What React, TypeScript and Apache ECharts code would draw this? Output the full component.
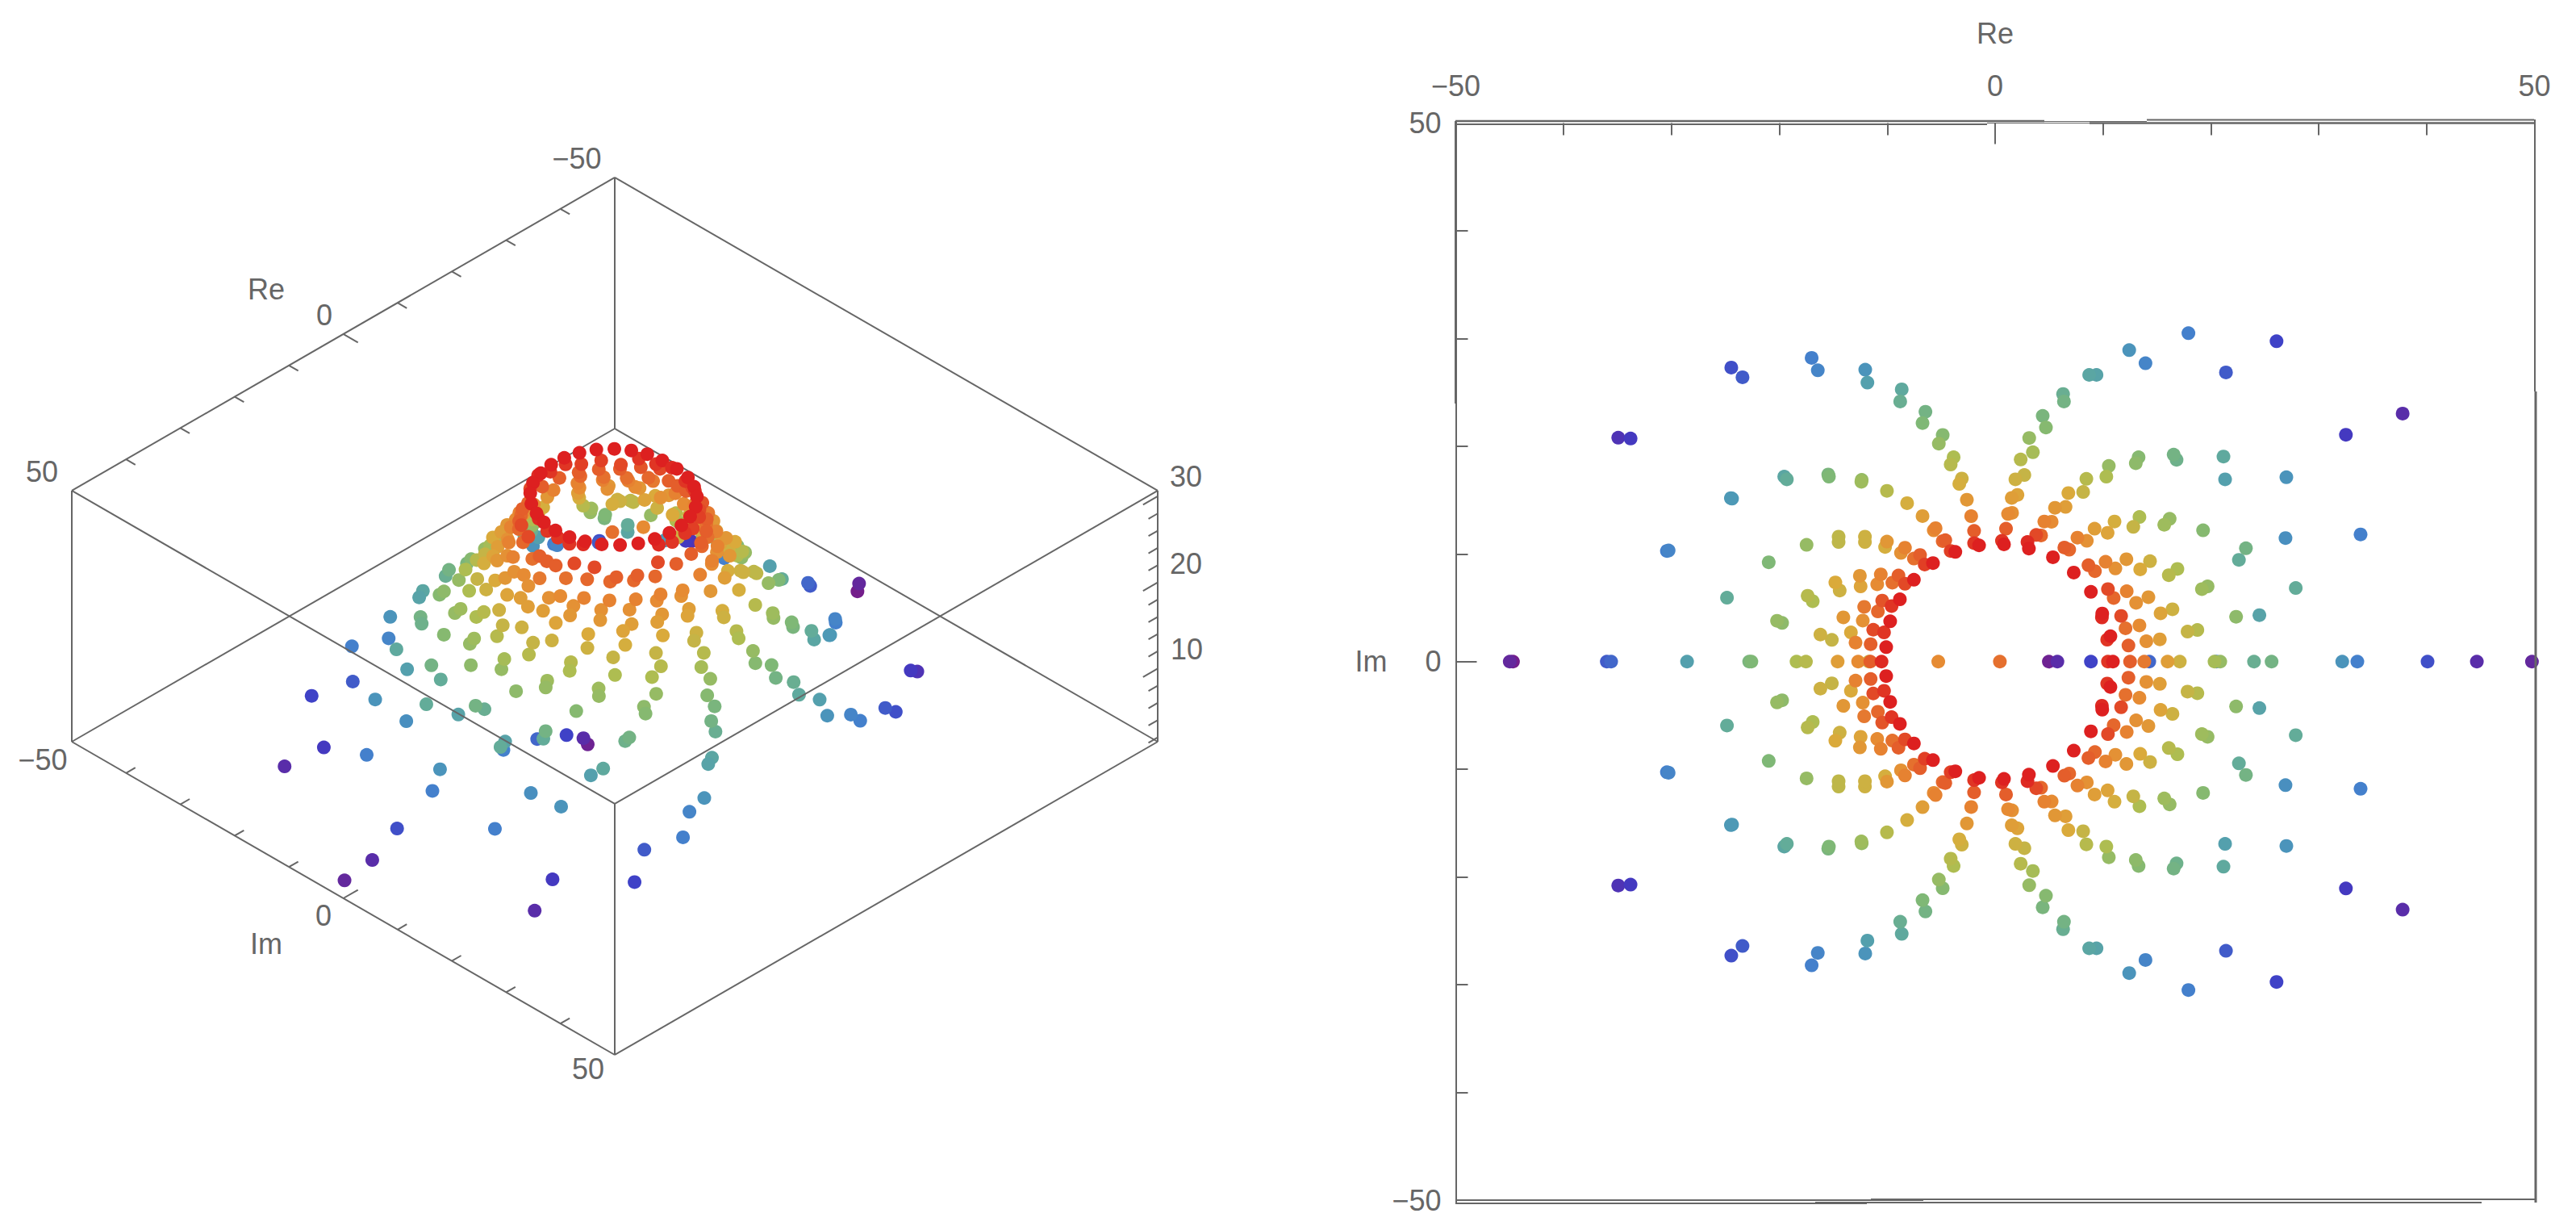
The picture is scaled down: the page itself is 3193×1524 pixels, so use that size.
import React, { useEffect, useRef } from "react";
import * as echarts from "echarts";

type P = [number, number, number];

const axisPoints: P[] = [
  [-45,0,3.5],[-44.7,0,2.7],[-36,0,6.5],[-35.6,0,7],[-28.56,0,11.5],[-22.8,0,15.5],[-22.6,0,16],[-18.41,0,19],[-17.54,0,19.5],[-14.6,0,23],[-12.7,0,24.5],[-11.7,0,21],[-11.57,0,27],[-10.53,0,29.5],[-5.27,0,24.5],[0.44,0,26],[4.98,0,3],[5.77,0,4],[8.88,0,5.5],[10.46,0,29],[10.92,0,30],[12.51,0,27],[13.83,0,25.5],[14.29,0,7],[15.99,0,23],[17.12,0,21],[20.34,0,18.5],[20.87,0,17.5],[20.5,0,8],[24,0,14],[25.63,0,15],[32.18,0,10],[33.58,0,8],[40.09,0,6],[44.66,0,4],[49.77,0,3.5],
];
const arcUpper: P[] = [
  [-34.94,20.79,4.5],[-33.8,20.71,5],[-24.46,27.3,6],[-23.42,26.4,6.5],[-17.01,28.2,8],[-16.44,27.05,8.5],[-12.04,27.1,10],[-11.84,25.9,11.5],[-8.66,25.28,13],[-8.8,24.15,14],[-6.46,23.2,15],[-6.73,22.15,16],[-4.86,21.04,16.5],[-5.22,20.24,17.5],[-3.85,18.97,19],[-4.12,18.3,19.5],[-3.09,17,21],[-3.32,16.5,21.5],[-2.62,15.03,23.5],[-2.22,13.5,25],[-1.95,12.14,27],[-1.95,11,29],[-1.49,10.79,30],
  [0.82,10.89,30],[0.63,11.22,29],[1.01,12.34,27],[1.2,13.71,24.5],[1.57,13.81,24],[1.54,15.2,23],[2.07,15.48,22.5],[1.88,16.92,21],[2.71,17.32,20.5],[2.37,18.77,19.5],[3.16,20.76,17.5],[3.5,19.44,18.5],[4.41,22.81,15.5],[4.71,21.74,16.5],[6.3,24.85,14],[6.38,24.15,15],[8.72,26.62,12.5],[9.4,26.62,12],[12.43,28.92,10],[13.94,27.7,8.5],[17.92,30.49,8],[21.4,26.85,6.5],[26.09,29.74,5.5],[32.52,21.06,5],[37.78,23.03,4],
];
const arcLower: P[] = [
  [-34.94,-20.79,4.5],[-33.8,-20.71,5],[-24.46,-27.3,6],[-23.42,-26.4,6.5],[-17.01,-28.2,8],[-16.44,-27.05,8.5],[-12.04,-27.1,10],[-11.84,-25.9,11.5],[-8.66,-25.28,13],[-8.8,-24.15,14],[-6.46,-23.2,15],[-6.73,-22.15,16],[-4.86,-21.04,16.5],[-5.22,-20.24,17.5],[-3.85,-18.97,19],[-4.12,-18.3,19.5],[-3.09,-17,21],[-3.32,-16.5,21.5],[-2.62,-15.03,23.5],[-2.22,-13.5,25],[-1.95,-12.14,27],[-1.95,-11,29],[-1.49,-10.79,30],
  [0.82,-10.89,30],[0.63,-11.22,29],[1.01,-12.34,27],[1.2,-13.71,24.5],[1.57,-13.81,24],[1.54,-15.2,23],[2.07,-15.48,22.5],[1.88,-16.92,21],[2.71,-17.32,20.5],[2.37,-18.77,19.5],[3.16,-20.76,17.5],[3.5,-19.44,18.5],[4.41,-22.81,15.5],[4.71,-21.74,16.5],[6.3,-24.85,14],[6.38,-24.15,15],[8.72,-26.62,12.5],[9.4,-26.62,12],[12.43,-28.92,10],[13.94,-27.7,8.5],[17.92,-30.49,8],[21.4,-26.85,6.5],[26.09,-29.74,5.5],[32.52,-21.06,5],[37.78,-23.03,4],
];
const leftRayAUpper: P[] = [
  [-30.27,10.32,8.5],[-30.43,10.27,8],[-24.39,15.13,10.5],[-24.5,15.18,10.5],[-19.55,17.17,12.5],[-19.31,16.92,13.5],[-15.47,17.37,15.5],[-15.41,17.17,16],[-12.37,16.87,17.5],[-12.4,16.7,18],[-10.03,15.85,19.5],[-8.16,14.71,21.5],[-6.73,13.51,23],[-5.52,12.39,25],[-5.69,12.19,24.5],[-4.62,11.27,27],[-4.86,11.19,26.5],[-4.12,10.27,28.5],[-3.69,10.19,30],
];
const leftRayALower: P[] = [
  [-30.27,-10.32,8.5],[-30.43,-10.27,8],[-24.39,-15.13,10.5],[-24.5,-15.18,10.5],[-19.55,-17.17,12.5],[-19.31,-16.92,13.5],[-15.47,-17.37,15.5],[-15.41,-17.17,16],[-12.37,-16.87,17.5],[-12.4,-16.7,18],[-10.03,-15.85,19.5],[-8.16,-14.71,21.5],[-6.73,-13.51,23],[-5.52,-12.39,25],[-5.69,-12.19,24.5],[-4.62,-11.27,27],[-4.86,-11.19,26.5],[-4.12,-10.27,28.5],[-3.69,-10.19,30],
];
const leftRayBUpper: P[] = [
  [-20.99,9.22,16],[-17.48,10.84,17.5],[-14.51,11.6,20],[-14.51,11.1,20],[-12.07,11.6,21],[-12.07,11.1,21],[-10.03,11.14,23.5],[-10.2,10.64,21.5],[-8.36,10.57,25],[-8.73,10.09,24],[-6.96,9.9,27],[-7.53,9.57,26],[-6.53,9.02,28.5],[-5.76,9.15,30],
];
const leftRayBLower: P[] = [
  [-20.99,-9.22,16],[-17.48,-10.84,17.5],[-14.51,-11.6,20],[-14.51,-11.1,20],[-12.07,-11.6,21],[-12.07,-11.1,21],[-10.03,-11.14,23.5],[-10.2,-10.64,21.5],[-8.36,-10.57,25],[-8.73,-10.09,24],[-6.96,-9.9,27],[-7.53,-9.57,26],[-6.53,-9.02,28.5],[-5.76,-9.15,30],
];
const leftRayCUpper: P[] = [
  [-24.86,5.93,13.5],[-20.22,3.79,17.5],[-19.75,3.59,17],[-17.38,6.11,19.5],[-16.91,5.61,19],[-14.81,7.35,22],[-14.41,6.6,21],[-12.54,7.97,23.5],[-12.47,6.98,22.5],[-10.6,8.1,25],[-10.93,7.18,24.5],[-8.96,8,27],[-9.53,7.33,26],[-8.36,7.23,28],[-7.53,7.6,30],
];
const leftRayCLower: P[] = [
  [-24.86,-5.93,13.5],[-20.22,-3.79,17.5],[-19.75,-3.59,17],[-17.38,-6.11,19.5],[-16.91,-5.61,19],[-14.81,-7.35,22],[-14.41,-6.6,21],[-12.54,-7.97,23.5],[-12.47,-6.98,22.5],[-10.6,-8.1,25],[-10.93,-7.18,24.5],[-8.96,-8,27],[-9.53,-7.33,26],[-8.36,-7.23,28],[-7.53,-7.6,30],
];
const leftRayDUpper: P[] = [
  [-10.47,5.66,27.5],[-8.83,5.78,30],[-9.6,5.16,29],[-12.14,5.08,25.5],[-10.87,4.66,26.5],[-14.07,4.11,23.5],[-12.27,3.81,24],[-9.73,3.74,30],[-11.3,2.96,28],[-10.3,2.71,29],[-13.37,2.71,22],[-12.94,1.77,25],[-11.54,1.62,27],[-10.1,1.34,30],[-16.2,2.51,21],[-15.14,2.02,20.5],
];
const leftRayDLower: P[] = [
  [-10.47,-5.66,27.5],[-8.83,-5.78,30],[-9.6,-5.16,29],[-12.14,-5.08,25.5],[-10.87,-4.66,26.5],[-14.07,-4.11,23.5],[-12.27,-3.81,24],[-9.73,-3.74,30],[-11.3,-2.96,28],[-10.3,-2.71,29],[-13.37,-2.71,22],[-12.94,-1.77,25],[-11.54,-1.62,27],[-10.1,-1.34,30],[-16.2,-2.51,21],[-15.14,-2.02,20.5],
];
const rightRayAUpper: P[] = [
  [3,11.1,29.5],[3.13,10.5,30],[3.81,11.76,28],[4.26,11.71,26.5],[4.56,13.01,25],[5.24,12.99,24.5],[5.55,14.28,23.5],[6.53,14.36,23],[6.79,15.65,22],[8.16,15.75,20.5],[8.46,16.97,19.5],[10.31,17.17,19],[10.54,18.17,17.5],[13.04,18.42,17],[13.3,18.97,16.5],[16.55,19.22,15],[16.82,18.74,14.5],[21.17,19.04,13],[21.32,16.92,11.5],[27,17.12,10],
];
const rightRayALower: P[] = [
  [3,-11.1,29.5],[3.13,-10.5,30],[3.81,-11.76,28],[4.26,-11.71,26.5],[4.56,-13.01,25],[5.24,-12.99,24.5],[5.55,-14.28,23.5],[6.53,-14.36,23],[6.79,-15.65,22],[8.16,-15.75,20.5],[8.46,-16.97,19.5],[10.31,-17.17,19],[10.54,-18.17,17.5],[13.04,-18.42,17],[13.3,-18.97,16.5],[16.55,-19.22,15],[16.82,-18.74,14.5],[21.17,-19.04,13],[21.32,-16.92,11.5],[27,-17.12,10],
];
const rightRayBUpper: P[] = [
  [5.36,9.69,30],[6.42,10.59,27],[6.87,10.39,26.5],[7.63,11.51,25],[8.5,11.22,24],[9.22,12.34,23],[10.43,11.96,22.5],[11.07,13.01,21.5],[12.81,12.51,20.5],[13.38,13.43,19],[15.68,12.71,18],[16.18,13.26,17.5],[19.28,12.19,16.5],[23.25,10.52,15],[22.6,9.45,13.5],[26.92,11.47,9.5],[33.88,11.81,8],
];
const rightRayBLower: P[] = [
  [5.36,-9.69,30],[6.42,-10.59,27],[6.87,-10.39,26.5],[7.63,-11.51,25],[8.5,-11.22,24],[9.22,-12.34,23],[10.43,-11.96,22.5],[11.07,-13.01,21.5],[12.81,-12.51,20.5],[13.38,-13.43,19],[15.68,-12.71,18],[16.18,-13.26,17.5],[19.28,-12.19,16.5],[23.25,-10.52,15],[22.6,-9.45,13.5],[26.92,-11.47,9.5],[33.88,-11.81,8],
];
const rightRayCUpper: P[] = [
  [7.29,8.27,30],[8.65,8.95,27],[9.25,8.4,26.5],[10.24,9.27,25],[11.15,8.65,24],[12.17,9.5,23.5],[13.45,8.57,22],[14.36,9.32,21],[16.1,8.02,19.5],[16.9,8.6,19],[19.17,6.73,18],[19.7,6.98,17.5],[27.87,6.83,13.5],
];
const rightRayCLower: P[] = [
  [7.29,-8.27,30],[8.65,-8.95,27],[9.25,-8.4,26.5],[10.24,-9.27,25],[11.15,-8.65,24],[12.17,-9.5,23.5],[13.45,-8.57,22],[14.36,-9.32,21],[16.1,-8.02,19.5],[16.9,-8.6,19],[19.17,-6.73,18],[19.7,-6.98,17.5],[27.87,-6.83,13.5],
];
const rightRayDUpper: P[] = [
  [8.88,6.48,30],[10.46,6.73,28],[10.99,5.91,26.5],[12.2,6.53,25],[13.07,5.46,24],[14.21,5.98,23.5],[15.34,4.48,22.5],[16.44,4.86,21],[17.84,2.79,20.5],[18.75,2.94,19.5],[22.34,4.16,17],[24.5,4.31,12],[9.93,4.46,30],[9.9,4.1,29.5],[11.68,4.24,28],[12.09,3.09,26],[13.38,3.36,24.5],[10.69,2.36,30],[10.39,2.04,29],[12.36,1.49,27],[14.02,1.89,24],[15.27,2.07,23],
];
const rightRayDLower: P[] = [
  [8.88,-6.48,30],[10.46,-6.73,28],[10.99,-5.91,26.5],[12.2,-6.53,25],[13.07,-5.46,24],[14.21,-5.98,23.5],[15.34,-4.48,22.5],[16.44,-4.86,21],[17.84,-2.79,20.5],[18.75,-2.94,19.5],[22.34,-4.16,17],[24.5,-4.31,12],[9.93,-4.46,30],[9.9,-4.1,29.5],[11.68,-4.24,28],[12.09,-3.09,26],[13.38,-3.36,24.5],[10.69,-2.36,30],[10.39,-2.04,29],[12.36,-1.49,27],[14.02,-1.89,24],[15.27,-2.07,23],
];

const boxTicks = [-40, -30, -20, -10, 0, 10, 20, 30, 40];
const boxMajorTicks = [0];
const panelLabels = [-50, 0, 50];
const heightTicks = [2, 4, 6, 8, 10, 12, 14, 16, 18, 20, 22, 24, 26, 28, 30];
const heightMajorTicks = [10, 20, 30];
const rainbow = ["#781C86", "#3F3CC6", "#4480CC", "#4E9BB4", "#63AC99", "#82B973", "#AEBD51", "#D9AD3C", "#E68B33", "#E4592A", "#DD2020"];

const INK = "#666666";
const FONT = '"Liberation Sans", Arial, sans-serif';
const FONT_SIZE = 36;
const DOT = 17;
const Z_MIN = 1.5;
const Z_MAX = 30.65;

// Isometric view of the left box, in the pixel-valued axes of the left grid.
const project = (re: number, im: number, z: number): [number, number] => [
  762 + 6.73 * (im - re),
  919 + 3.88 * (re + im) - 10.67 * (z - Z_MIN),
];

const allPoints: P[] = [
  ...axisPoints, ...arcUpper, ...arcLower,
  ...leftRayAUpper, ...leftRayALower, ...leftRayBUpper, ...leftRayBLower,
  ...leftRayCUpper, ...leftRayCLower, ...leftRayDUpper, ...leftRayDLower,
  ...rightRayAUpper, ...rightRayALower, ...rightRayBUpper, ...rightRayBLower,
  ...rightRayCUpper, ...rightRayCLower, ...rightRayDUpper, ...rightRayDLower,
];

const byDepth = [...allPoints].sort((a, b) => 7.33 * a[2] + 5.5 * (a[0] + a[1]) - (7.33 * b[2] + 5.5 * (b[0] + b[1])));
const byHeight = [...allPoints].sort((a, b) => a[2] - b[2]);

const seg = (a: [number, number, number], b: [number, number, number]) => ({
  coords: [project(a[0], a[1], a[2]), project(b[0], b[1], b[2])],
});

const backEdges = [
  seg([-50, -50, Z_MIN], [50, -50, Z_MIN]), seg([-50, -50, Z_MIN], [-50, 50, Z_MIN]),
  seg([50, 50, Z_MIN], [50, -50, Z_MIN]), seg([50, 50, Z_MIN], [-50, 50, Z_MIN]),
  seg([-50, -50, Z_MIN], [-50, -50, Z_MAX]), seg([50, -50, Z_MIN], [50, -50, Z_MAX]),
  seg([-50, 50, Z_MIN], [-50, 50, Z_MAX]), seg([50, 50, Z_MIN], [50, 50, Z_MAX]),
  seg([-50, -50, Z_MAX], [50, -50, Z_MAX]), seg([-50, -50, Z_MAX], [-50, 50, Z_MAX]),
];
const frontEdges = [seg([50, 50, Z_MAX], [50, -50, Z_MAX]), seg([50, 50, Z_MAX], [-50, 50, Z_MAX])];

const tickLen = (major: boolean) => (major ? 2.7 : 1.7);
const tickSegs = [
  ...boxTicks.map((v) => seg([v, -50, Z_MAX], [v, -50 + tickLen(boxMajorTicks.includes(v)), Z_MAX])),
  ...boxTicks.map((v) => seg([50, v, Z_MIN], [50 - tickLen(boxMajorTicks.includes(v)), v, Z_MIN])),
  ...heightTicks.map((v) => seg([-50, 50, v], [-50 + tickLen(heightMajorTicks.includes(v)), 50, v])),
];

const leftTexts = [
  { text: "\u221250", x: 715, y: 196 }, { text: "Re", x: 330, y: 358 }, { text: "0", x: 402, y: 390 }, { text: "50", x: 52, y: 584 },
  { text: "\u221250", x: 53, y: 941 }, { text: "Im", x: 330, y: 1169 }, { text: "0", x: 401, y: 1134 }, { text: "50", x: 729, y: 1324 },
  { text: "30", x: 1470, y: 590 }, { text: "20", x: 1470, y: 698 }, { text: "10", x: 1471, y: 804 },
];

const frameLines: [number, number, number, number, number][] = [
  [1804, 150, 2534, 150, 2.5], [1804, 154, 2463, 154, 2], [2534, 150.5, 2661, 150.5, 1], [2463, 152.5, 2590, 152.5, 1],
  [2590, 152.5, 3141, 152.5, 2.5], [2661, 148.5, 3141, 148.5, 2],
  [1804, 1487, 2384, 1487, 2], [2319, 1486, 3142, 1486, 2], [1804, 1491, 2314, 1491, 2], [2250, 1490, 3076, 1490, 2],
  [1804.5, 150, 1804.5, 500, 3], [1805, 500, 1805, 1491, 2],
  [3142, 148, 3142, 485, 2], [3143, 485, 3143, 1490, 3],
];

const tickFormat = (v: number) => String(v).replace("-", "\u2212");
const hiddenAxis = (gridIndex: number, max: number, inverse = false) => ({
  type: "value", gridIndex, min: 0, max, inverse, show: false, splitLine: { show: false },
});
const panelAxis = (position: string, interval: number, length: number, values: number[], extra: object = {}) => ({
  type: "value", gridIndex: 1, position, min: -50, max: 50, interval,
  axisLine: { show: false, onZero: false },
  axisTick: { show: true, inside: true, length, customValues: values, lineStyle: { color: INK, width: 2 } },
  axisLabel: { show: false },
  splitLine: { show: false },
  ...extra,
});
const majorLabel = (margin: number, padding: number[]) => ({
  axisLabel: { show: true, margin, padding, customValues: panelLabels, color: INK, fontSize: FONT_SIZE, fontFamily: FONT, formatter: tickFormat, hideOverlap: false, showMinLabel: true, showMaxLabel: true },
  nameTextStyle: { color: INK, fontSize: FONT_SIZE, fontFamily: FONT },
});

export default function App() {
  const ref = useRef<HTMLDivElement>(null);
  useEffect(() => {
    document.body.style.margin = "0";
    document.body.style.overflow = "hidden";
    const chart = echarts.init(ref.current!, undefined, { renderer: "svg" });
    const edgeStyle = { color: INK, width: 2, opacity: 1, curveness: 0 };
    const dotStyle = { opacity: 1 };
    chart.setOption({
      animation: false,
      backgroundColor: "#ffffff",
      grid: [
        { left: 0, top: 0, width: 1600, height: 1524, containLabel: false },
        { left: 1804.5, top: 152.5, width: 1337, height: 1334.5, containLabel: false },
      ],
      xAxis: [
        hiddenAxis(0, 1600),
        panelAxis("top", 10, 15, boxTicks),
        panelAxis("top", 50, 26, boxMajorTicks, { ...majorLabel(26, [0, 0, 2, 0]), name: "Re", nameLocation: "middle", nameGap: 93 }),
      ],
      yAxis: [
        hiddenAxis(0, 1524, true),
        panelAxis("left", 10, 15, boxTicks),
        panelAxis("left", 50, 26, boxMajorTicks, { ...majorLabel(18, [0, 0, 4, 0]), name: "Im", nameLocation: "middle", nameRotate: 0, nameGap: 85 }),
      ],
      visualMap: {
        show: false, type: "continuous", min: 2.5, max: 30, dimension: 2, seriesIndex: [1, 3],
        inRange: { color: rainbow },
      },
      series: [
        { type: "lines", coordinateSystem: "cartesian2d", xAxisIndex: 0, yAxisIndex: 0, polyline: false, silent: true, z: 1, lineStyle: edgeStyle, data: [...backEdges, ...tickSegs] },
        { type: "scatter", xAxisIndex: 0, yAxisIndex: 0, symbol: "circle", symbolSize: DOT, silent: true, z: 2, clip: false, progressive: 0, itemStyle: dotStyle, data: byDepth.map((p) => [...project(p[0], p[1], p[2]), p[2]]) },
        { type: "lines", coordinateSystem: "cartesian2d", xAxisIndex: 0, yAxisIndex: 0, polyline: false, silent: true, z: 3, lineStyle: edgeStyle, data: frontEdges },
        { type: "scatter", xAxisIndex: 1, yAxisIndex: 1, symbol: "circle", symbolSize: DOT, silent: true, z: 2, clip: false, progressive: 0, itemStyle: dotStyle, data: byHeight },
      ],
      graphic: [
        ...frameLines.map(([x1, y1, x2, y2, w]) => ({
          type: "line", silent: true, z: 10, shape: { x1, y1, x2, y2 }, style: { stroke: INK, lineWidth: w },
        })),
        ...leftTexts.map((t) => ({
          type: "text", silent: true, z: 10, x: t.x, y: t.y,
          style: { text: t.text, fill: INK, font: `${FONT_SIZE}px ${FONT}`, textAlign: "center", textVerticalAlign: "middle" },
        })),
      ],
    });
    return () => chart.dispose();
  }, []);
  return <div ref={ref} style={{ position: "absolute", left: 0, top: 0, width: 3193, height: 1524 }} />;
}
